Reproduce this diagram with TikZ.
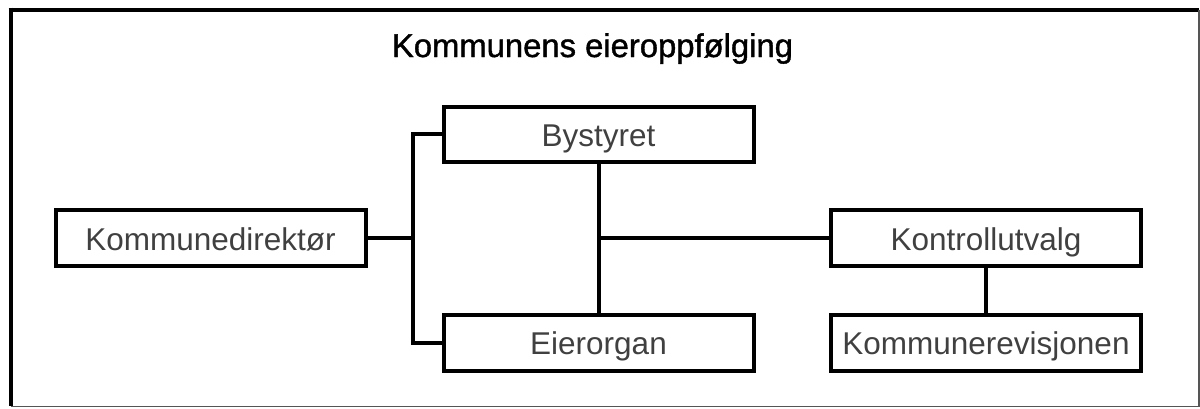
\documentclass[tikz,border=0pt]{standalone}
\usepackage{fontspec}
\setmainfont{Liberation Sans}
\newfontfamily\titlefont[FakeBold=1.2]{Liberation Sans}
\definecolor{labelgray}{HTML}{404040}
\definecolor{framegray}{HTML}{555555}
\begin{document}
\begin{tikzpicture}[x=1pt,y=-1pt,
  orgbox/.style={draw=black, line width=4pt, rectangle, inner sep=0pt,
    minimum width=310pt, minimum height=56pt, text height=28pt, text depth=4pt,
    font=\fontsize{31.5}{36}\selectfont, text=labelgray},
  link/.style={draw=black, line width=4pt}]
\useasboundingbox (0,0) rectangle (1200,408);
% frame
\draw[line width=4pt] (10.5,7.5) -- (10.5,406);
\draw[line width=4pt] (8.5,9.5) -- (1199,9.5);
\draw[line width=1.5pt, framegray] (1199,9.5) -- (1199,406.5) -- (10.5,406.5);
% title
\node[anchor=base, inner sep=0pt, font=\titlefont\fontsize{32.8}{38}\selectfont] (title) at (592.5,57) {Kommunens eieroppfølging};
% boxes
\node[orgbox] (kdir) at (210.5,238) {Kommunedirektør};
\node[orgbox, minimum height=55pt] (byst) at (598.5,134) {Bystyret};
\node[orgbox] (eier) at (598.5,342.5) {Eierorgan};
\node[orgbox] (kontr) at (986,238) {Kontrollutvalg};
\node[orgbox] (rev) at (986,342.5) {Kommunerevisjonen};
% connectors
\coordinate (bus) at (413,238);
\draw[link] (kdir.east) -- (bus);
\draw[link] (byst.west) -| (bus) |- (eier.west);
\draw[link] (byst.south) -- (eier.north);
\coordinate (mid) at (byst.south |- kontr.west);
\draw[link] (mid) -- (kontr.west);
\draw[link] (kontr.south) -- (rev.north);
\end{tikzpicture}
\end{document}
